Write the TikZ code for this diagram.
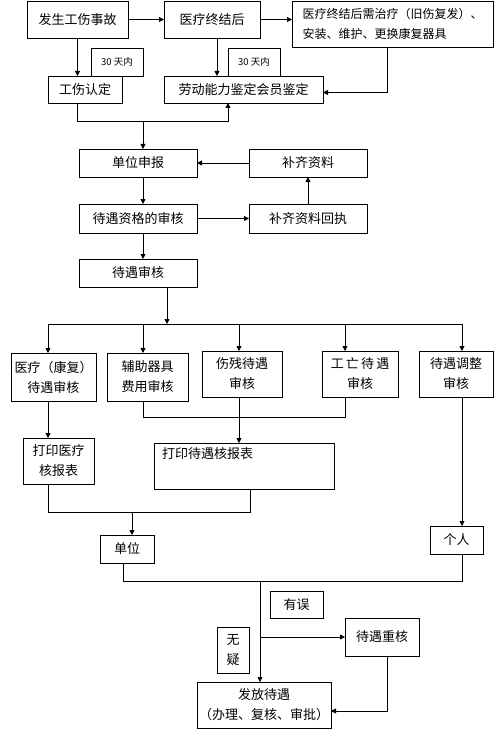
\documentclass[tikz,border=0pt]{standalone}
\usepackage{fontspec}
\setmainfont{Noto Sans CJK SC}
\usetikzlibrary{arrows.meta}
\begin{document}
\begin{tikzpicture}[x=1pt, y=-1pt, line width=0.8pt, >={Triangle[length=5pt,width=5pt]},
main node/.style={draw,rectangle,anchor=north west,outer sep=0pt,inner sep=2pt,align=center,font=\fontsize{13}{20}\selectfont},
note node/.style={main node,font=\fontsize{9.5}{12}\selectfont}]
\useasboundingbox (0,0) rectangle (500,730);
%top rows
\node[main node,minimum width=101pt,minimum height=37pt] (accident) at (27,1) {发生工伤事故};
\node[main node,minimum width=96pt,minimum height=37pt] (treated) at (164,1) {医疗终结后};
\node[main node,minimum width=201pt,minimum height=46pt,align=left,font=\fontsize{12}{20}\selectfont] (retreat) at (292,1) {医疗终结后需治疗（旧伤复发）、\\安装、维护、更换康复器具};
\node[note node,minimum width=52pt,minimum height=28pt] (days1) at (91,48) {30 天内};
\node[note node,minimum width=52pt,minimum height=28pt] (days2) at (228,48) {30 天内};
\node[main node,minimum width=74pt,minimum height=27pt] (injury) at (48,76) {工伤认定};
\node[main node,minimum width=159pt,minimum height=27pt] (appraise) at (164,76) {劳动能力鉴定会员鉴定};
%declaration
\node[main node,minimum width=118pt,minimum height=28pt] (report) at (79,149) {单位申报};
\node[main node,minimum width=118pt,minimum height=28pt] (supply) at (249,149) {补齐资料};
\node[main node,minimum width=118pt,minimum height=29pt] (qualify) at (79,204) {待遇资格的审核};
\node[main node,minimum width=118pt,minimum height=29pt] (receipt) at (249,204) {补齐资料回执};
\node[main node,minimum width=118pt,minimum height=28pt] (review) at (79,259) {待遇审核};
%reviews
\node[main node,minimum width=85pt,minimum height=48pt] (med) at (11,353) {医疗（康复）\\待遇审核};
\node[main node,minimum width=81pt,minimum height=48pt] (aid) at (107,353) {辅助器具\\费用审核};
\node[main node,minimum width=80pt,minimum height=46pt] (disab) at (202,351) {伤残待遇\\审核};
\node[main node,minimum width=76pt,minimum height=46pt] (death) at (322,351) {工\,亡\,待\,遇\\审核};
\node[main node,minimum width=74pt,minimum height=46pt] (adjust) at (419,351) {待遇调整\\审核};
\node[main node,minimum width=71pt,minimum height=46pt] (printmed) at (23,438) {打印医疗\\核报表};
\node[main node,minimum height=46pt,inner xsep=8pt,text width=164pt,align=left] (printall) at (154,443) {打印待遇核报表\\\strut};
%payment
\node[main node,minimum width=54pt,minimum height=28pt] (unit) at (100,535) {单位};
\node[main node,minimum width=53pt,minimum height=28pt] (person) at (430,526) {个人};
\node[main node,minimum width=53pt,minimum height=27pt] (wrong) at (270,591) {有误};
\node[main node,minimum width=32pt,minimum height=46pt] (fine) at (217,627) {无\\疑};
\node[main node,minimum width=74pt,minimum height=38pt] (recheck) at (345,618) {待遇重核};
\node[main node,minimum width=126pt,minimum height=46pt] (pay) at (197,682) {发放待遇\\（办理、复核、审批）};
%junctions
\coordinate (j1) at (143,121);
\coordinate (j2) at (228,121);
\coordinate (bus) at (167,324);
\begin{scope}[every path/.style={draw=black,line width=0.8pt}]
\draw[->] (accident) -- (treated);
\draw[->] (treated.east) -- (treated.east -| retreat.west);
\draw[->] (accident.south) -- (accident.south |- injury.north);
\draw[->] ([xshift=5pt]treated.south) -- ([xshift=5pt]treated.south |- appraise.north);
\draw[->] ([xshift=-5pt]retreat.south) |- ([yshift=-3pt]appraise.east);
\draw[->] (accident.south |- injury.south) |- (j2) -- (j2 |- appraise.south);
\draw[->] (j1) -- (j1 |- report.north);
\draw[->] (supply) -- (report);
\draw[->] (j1 |- report.south) -- (j1 |- qualify.north);
\draw[->] (qualify) -- (receipt);
\draw[->] (receipt) -- (supply);
\draw[->] (j1 |- qualify.south) -- (j1 |- review.north);
\draw[->] (bus |- review.south) -- (bus);
\draw (48,324) -- (462,324);
\foreach \x/\n in {48/med,143/aid,239/disab,345/death,462/adjust}
  \draw[->] (\x,324) -- (\x,0 |- \n.north);
\draw[->] (48,0 |- med.south) -- (48,0 |- printmed.north);
\draw (143,0 |- aid.south) |- (345,417) -- (345,0 |- death.south);
\draw[->] (239,0 |- disab.south) -- (239,0 |- printall.north);
\draw (48,0 |- printmed.south) |- (250,512) -- (250,0 |- printall.south);
\draw[->] (132,512) -- (132,0 |- unit.north);
\draw[->] (462,0 |- adjust.south) -- (462,0 |- person.north);
\draw (123,0 |- unit.south) |- (462,581) -- (462,0 |- person.south);
\draw[->] (260,581) -- (260,0 |- pay.north);
\draw[->] (260,637) -- (260,637 -| recheck.west);
\draw[->] (387,0 |- recheck.south) |- (pay.east |- 0,711);
\end{scope}
\end{tikzpicture}
\end{document}
